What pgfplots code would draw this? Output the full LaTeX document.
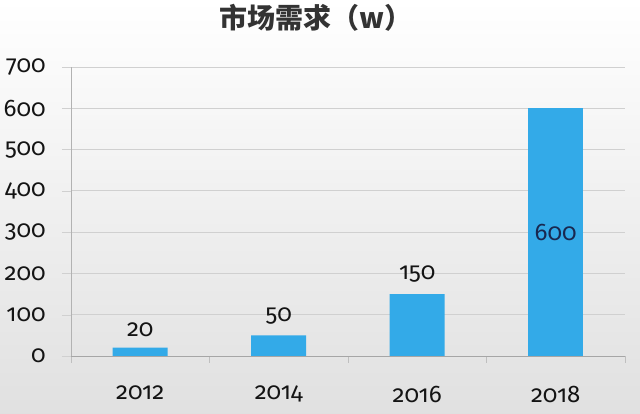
\documentclass[border=0pt]{standalone}
\usepackage{pgfplots}
\pgfplotsset{compat=1.18}
\usepackage{fontspec}
\setmainfont{Fira Sans}[Numbers=OldStyle]
\newfontfamily\cjk{Noto Sans CJK SC}
\definecolor{barblue}{RGB}{51,170,232}
\definecolor{gridgray}{RGB}{208,208,208}
\definecolor{labnavy}{RGB}{25,40,80}
\begin{document}
\begin{tikzpicture}
\useasboundingbox (-53.25pt,-43.5pt) rectangle (426.75pt,267pt);
\shade[top color=white, bottom color=black!12] (-53.25pt,-43.5pt) rectangle (426.75pt,267pt);
\node[font=\cjk\bfseries\fontsize{21}{24}\selectfont, text=black!80] at (184pt,253.5pt) {市场需求（w）};
\begin{axis}[
  at={(0pt,0pt)}, anchor=south west,
  scale only axis, width=415.5pt, height=216.75pt,
  xmin=-0.5, xmax=3.5, ymin=0, ymax=700,
  axis lines=left, axis line style={-, draw=black!30},
  x axis line style={draw=black!35},
  ytick={0,100,...,700},
  xtick={0,1,2,3}, xticklabels={2012,2014,2016,2018},
  minor xtick={-0.5,0.5,1.5,2.5,3.5},
  major x tick style={draw=none},
  minor x tick style={draw=black!25},
  minor tick length=5pt,
  major tick length=6.75pt,
  tick align=outside,
  y tick style={draw=gridgray},
  ymajorgrids, grid style={gridgray, line width=0.6pt},
  /pgf/number format/assume math mode=true,
  tick label style={font=\fontsize{18}{21}\selectfont, text=black!92},
  yticklabel style={xshift=-11pt, inner sep=1pt},
  xticklabel style={yshift=-12pt},
  ybar, bar width=41.25pt, bar shift=0pt,
  clip=false,
]
\addplot[fill=barblue, draw=none,
  nodes near coords, nodes near coords style={font=\fontsize{18}{21}\selectfont, text=black!92, yshift=5pt}]
  coordinates {(0,20) (1,50) (2,150)};
\addplot[fill=barblue, draw=none,
  nodes near coords,
  nodes near coords style={font=\fontsize{18}{21}\selectfont, text=labnavy, anchor=center, yshift=-92.9pt}]
  coordinates {(3,600)};
\end{axis}
\end{tikzpicture}
\end{document}
